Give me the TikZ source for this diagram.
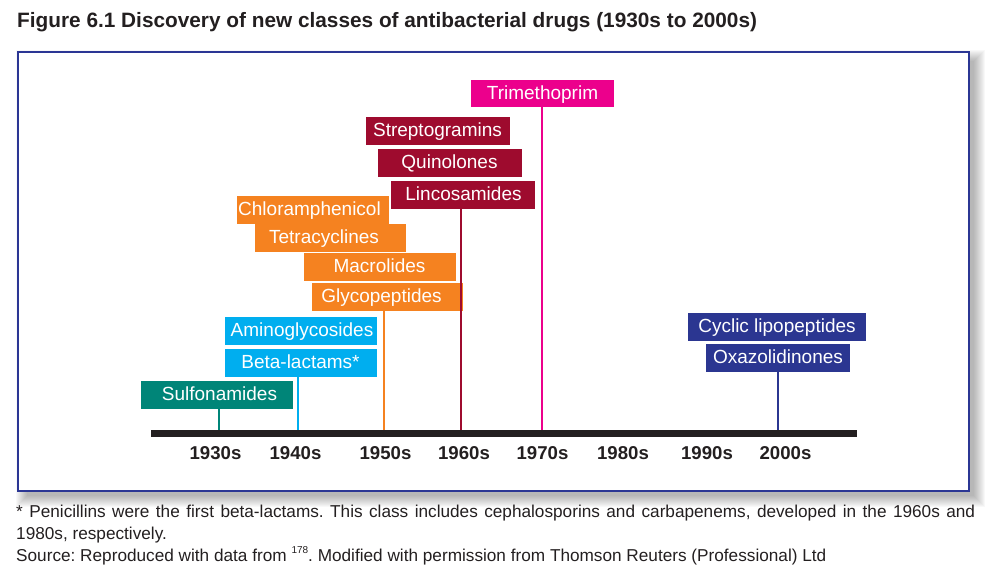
\documentclass[tikz,border=0pt]{standalone}
\usepackage{fontspec}
\setmainfont{Liberation Sans}
\frenchspacing
\definecolor{cTeal}{RGB}{0,133,120}
\definecolor{cCyan}{RGB}{0,174,239}
\definecolor{cOrange}{RGB}{245,130,32}
\definecolor{cDRed}{RGB}{158,11,46}
\definecolor{cMag}{RGB}{236,0,140}
\definecolor{cNavy}{RGB}{43,54,145}
\definecolor{cBar}{RGB}{35,31,32}
\definecolor{cFrame}{RGB}{43,54,148}
\definecolor{cText}{RGB}{35,31,32}
\tikzset{
  box/.style={fill=#1, minimum height=28pt, inner sep=0pt, draw=none},
  lbl/.style={text=white, font=\fontsize{19}{21}\selectfont, anchor=base, inner sep=0pt},
  yr/.style={font=\bfseries\fontsize{18.6}{20}\selectfont, text=cText, anchor=base, inner sep=0pt},
  stem/.style={draw=#1, line width=2pt},
  foot/.style={font=\fontsize{17.2}{20}\selectfont, text=cText, anchor=base west, inner sep=0pt},
}
\begin{document}
\begin{tikzpicture}[x=1pt,y=-1pt]
\useasboundingbox (0,0) rectangle (999,579);
% shadow
\foreach \i in {0,...,11}{
  \fill[black, opacity=0.028] (26-10+\i,60-10+\i) rectangle (975+10-\i,497+10-\i);
}
% frame
\draw[cFrame, line width=2pt, fill=white] (18,52) rectangle (969,491);
% title
\node[anchor=base west, inner sep=0pt, font=\bfseries\fontsize{20.8}{24}\selectfont, text=cText] (title) at (17,27)
  {Figure 6.1 Discovery of new classes of antibacterial drugs (1930s to 2000s)};
% bar
\coordinate (barL) at (151,433.5);
\coordinate (barR) at (857,433.5);
\draw[cBar, line width=7pt] (barL) -- (barR);
% decade tick points on the bar top
\coordinate (d30) at (219,430);
\coordinate (d40) at (298,430);
\coordinate (d50) at (384,430);
\coordinate (d60) at (461,430);
\coordinate (d70) at (542,430);
\coordinate (d00) at (778,430);
% year labels
\node[yr] (y30) at (215.5,459.5) {1930s};
\node[yr] (y40) at (295.5,459.5) {1940s};
\node[yr] (y50) at (385.5,459.5) {1950s};
\node[yr] (y60) at (464,459.5) {1960s};
\node[yr] (y70) at (542.5,459.5) {1970s};
\node[yr] (y80) at (623,459.5) {1980s};
\node[yr] (y90) at (707,459.5) {1990s};
\node[yr] (y00) at (785.5,459.5) {2000s};
% boxes
\node[box=cMag, minimum width=143pt, minimum height=27pt] (tri) at (542.5,93.5) {};
\node[lbl] (triT) at (542.5,99.5) {Trimethoprim};
\node[box=cDRed, minimum width=144pt] (str) at (438,131) {};
\node[lbl] (strT) at (437.5,136.5) {Streptogramins};
\node[box=cDRed, minimum width=144pt] (qui) at (450,163) {};
\node[lbl] (quiT) at (449.5,168.5) {Quinolones};
\node[box=cDRed, minimum width=144pt] (lin) at (463,195) {};
\node[lbl] (linT) at (463.5,200.5) {Lincosamides};
\node[box=cOrange, minimum width=152pt] (chl) at (313,210) {};
\node[lbl] (chlT) at (309.5,215.5) {Chloramphenicol};
\node[box=cOrange, minimum width=151pt] (tet) at (330.5,238) {};
\node[lbl] (tetT) at (324,243.5) {Tetracyclines};
\node[box=cOrange, minimum width=152pt] (mac) at (380,267) {};
\node[lbl] (macT) at (379.5,272.5) {Macrolides};
\node[box=cOrange, minimum width=151pt] (gly) at (387.5,297) {};
\node[lbl] (glyT) at (381.5,302.5) {Glycopeptides};
\node[box=cCyan, minimum width=152pt] (ami) at (301,331) {};
\node[lbl] (amiT) at (302,336.5) {Aminoglycosides};
\node[box=cCyan, minimum width=152pt] (bet) at (301,363) {};
\node[lbl] (betT) at (300.5,368.5) {Beta-lactams*};
\node[box=cTeal, minimum width=152pt] (sul) at (217,395) {};
\node[lbl] (sulT) at (219.5,400.5) {Sulfonamides};
\node[box=cNavy, minimum width=178pt] (cyc) at (777,327) {};
\node[lbl] (cycT) at (777,332.5) {Cyclic lipopeptides};
\node[box=cNavy, minimum width=144pt] (oxa) at (778,358) {};
\node[lbl] (oxaT) at (778,363.5) {Oxazolidinones};
% stems
\draw[stem=cTeal] (d30 |- sul.south) -- (d30);
\draw[stem=cCyan] (d40 |- bet.south) -- (d40);
\draw[stem=cOrange] (d50 |- gly.south) -- (d50);
\draw[stem=cDRed] (d60 |- lin.south) -- (d60);
\draw[stem=cMag] (d70 |- tri.south) -- (d70);
\draw[stem=cNavy] (d00 |- oxa.south) -- (d00);
% footnotes
\node[foot] (f1) at (16,517) {\makebox[959pt][s]{* Penicillins were the first beta-lactams. This class includes cephalosporins and carbapenems, developed in the 1960s and}};
\node[foot] (f2) at (16,539) {1980s, respectively.};
\node[foot] (f3) at (16,561) {Source: Reproduced with data from \raisebox{0.42em}{\fontsize{10}{10}\selectfont 178}. Modified with permission from Thomson Reuters (Professional) Ltd};
\end{tikzpicture}
\end{document}
